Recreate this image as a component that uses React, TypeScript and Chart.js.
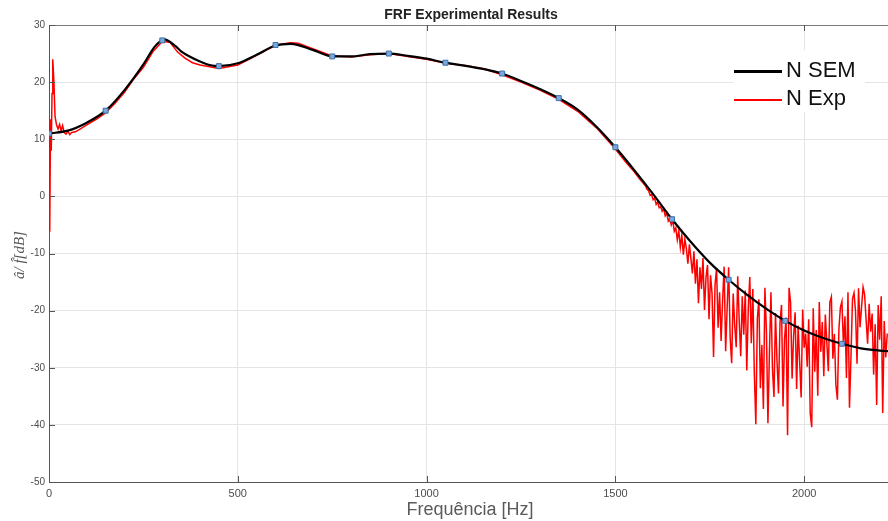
import React, { useEffect, useRef } from "react";
import { Chart, registerables } from "chart.js";

Chart.register(...registerables);

// ---- Data ----
const semFreq = [0, 50, 100, 150, 200, 250, 280, 305, 335, 350, 375, 400, 425, 450, 500, 550, 600, 640, 700, 750, 800, 850, 900, 950, 1000, 1050, 1100, 1150, 1200, 1250, 1300, 1350, 1400, 1450, 1500, 1550, 1600, 1650, 1700, 1750, 1800, 1850, 1900, 1950, 2000, 2050, 2100, 2150, 2200, 2222];
const semVal = [11.0, 11.5, 12.9, 15.0, 18.6, 23.1, 26.2, 27.5, 26.3, 25.4, 24.4, 23.6, 23.0, 22.8, 23.3, 24.8, 26.4, 26.7, 25.6, 24.5, 24.5, 24.9, 25.0, 24.6, 24.1, 23.4, 22.9, 22.3, 21.5, 20.2, 18.8, 17.2, 15.2, 12.2, 8.6, 4.6, 0.4, -4.0, -8.0, -11.6, -14.6, -17.3, -19.7, -21.8, -23.5, -24.8, -25.8, -26.6, -27.0, -27.1];

const markFreq = [0, 150, 300, 450, 600, 750, 900, 1050, 1200, 1350, 1500, 1650, 1800, 1950, 2100];
const markVal = [11.0, 15.0, 27.3, 22.8, 26.5, 24.5, 25.0, 23.4, 21.5, 17.2, 8.6, -4.0, -14.6, -21.8, -25.8];

const expFreq = [0, 2, 4, 6, 8, 10, 13, 16, 20, 24, 28, 32, 36, 40, 45, 50, 55, 60, 70, 80, 100, 125, 150, 175, 200, 225, 250, 275, 300, 320, 340, 360, 380, 400, 450, 500, 550, 600, 640, 660, 700, 750, 800, 850, 900, 950, 1000, 1050, 1100, 1150, 1200, 1250, 1300, 1350, 1400, 1450, 1500, 1530, 1550, 1565];
const expVal = [13.0, -6.2, 13.5, 8.0, 18.0, 24.0, 20.0, 14.0, 12.5, 11.8, 12.6, 11.5, 12.4, 11.2, 10.9, 11.4, 10.8, 11.2, 11.3, 11.7, 12.5, 13.5, 14.6, 16.3, 18.2, 20.6, 22.6, 25.3, 27.1, 27.0, 25.3, 24.2, 23.4, 23.0, 22.4, 23.0, 24.7, 26.5, 26.9, 26.8, 25.8, 24.6, 24.4, 24.8, 25.0, 24.5, 24.0, 23.3, 22.9, 22.4, 21.3, 20.0, 18.6, 17.0, 14.9, 12.0, 8.3, 5.8, 4.3, 3.0];

// noisy high-frequency part, sampled every 4 Hz from 1580 Hz
const expNoiseStart = 1580;
const expNoiseStep = 4;
const expNoiseVal = [
  1.8, 1.2, 1.0, 0.2, 0.3, -0.6, -0.3, -1.4, -1.0, -2.0,
  -1.8, -2.6, -2.2, -3.4, -2.9, -4.3, -3.8, -5.0, -4.2, -6.1,
  -5.5, -7.6, -6.0, -8.9, -6.8, -10.2, -7.5, -9.1, -11.8, -8.4,
  -10.9, -13.5, -9.6, -15.3, -11.0, -18.7, -12.4, -16.2, -10.8, -19.9,
  -14.2, -12.0, -21.5, -13.8, -17.0, -28.1, -15.4, -12.6, -23.0, -16.8,
  -25.3, -18.2, -12.3, -27.1, -19.5, -12.4, -24.8, -29.2, -17.0, -22.5,
  -26.4, -14.0, -21.8, -28.0, -17.5, -24.2, -16.5, -30.5, -19.6, -14.1,
  -25.7, -16.2, -31.0, -39.9, -21.4, -18.0, -33.6, -26.0, -37.2, -16.0,
  -23.5, -39.7, -27.3, -16.8, -30.2, -35.1, -20.4, -28.8, -34.5, -22.1,
  -19.0, -36.8, -25.0, -21.2, -41.8, -16.0, -18.6, -31.9, -24.4, -20.3,
  -33.7, -22.6, -28.9, -35.2, -19.8, -26.5, -24.0, -29.8, -21.5, -38.0,
  -40.4, -19.6, -30.7, -23.4, -34.9, -18.5, -27.2, -22.0, -31.5, -20.7,
  -25.6, -30.6, -18.5, -17.6, -28.4, -24.1, -33.0, -35.6, -23.2, -19.4,
  -18.4, -26.2, -21.0, -31.8, -16.8, -37.0, -27.9, -17.9, -16.9, -20.1,
  -29.3, -16.1, -22.9, -19.3, -15.9, -17.2, -21.6, -25.8, -18.8, -23.7,
  -20.5, -31.2, -22.4, -36.5, -19.0, -25.1, -17.5, -37.9, -21.8, -28.2,
  -24.0,
];

const xTicks = [0, 500, 1000, 1500, 2000];
const yTicks = [-50, -40, -30, -20, -10, 0, 10, 20, 30];

const titleText = "FRF Experimental Results";
const xTitle = "Frequência [Hz]";
const yTitle = "\u00e2/ f\u0302[dB]";
const legendLabels = ["N SEM", "N Exp"];

export default function App() {
  const ref = useRef<HTMLCanvasElement>(null);

  useEffect(() => {
    const canvas = ref.current!;
    const pts = (xs: number[], ys: number[]) => xs.map((x, i) => ({ x, y: ys[i] }));
    const expData = [
      ...pts(expFreq, expVal),
      ...expNoiseVal.map((v, i) => ({ x: expNoiseStart + i * expNoiseStep, y: v })),
    ];

    const deco = {
      id: "deco",
      beforeDraw(c: any) {
        const ctx = c.ctx;
        ctx.save();
        ctx.fillStyle = "#ffffff";
        ctx.fillRect(0, 0, c.width, c.height);
        ctx.restore();
      },
      afterDraw(c: any) {
        const ctx = c.ctx;
        const a = c.chartArea;
        const xs = c.scales.x;
        const ys = c.scales.y;
        ctx.save();
        // top border
        ctx.strokeStyle = "#7a7a7a";
        ctx.lineWidth = 1;
        ctx.beginPath();
        ctx.moveTo(a.left, a.top + 0.5);
        ctx.lineTo(a.right, a.top + 0.5);
        ctx.stroke();
        // inner ticks
        ctx.strokeStyle = "#555";
        ctx.beginPath();
        xTicks.forEach((v) => {
          const px = Math.round(xs.getPixelForValue(v)) + 0.5;
          ctx.moveTo(px, a.bottom);
          ctx.lineTo(px, a.bottom - 6);
          ctx.moveTo(px, a.top);
          ctx.lineTo(px, a.top + 6);
        });
        yTicks.forEach((v) => {
          const py = Math.round(ys.getPixelForValue(v)) + 0.5;
          ctx.moveTo(a.left, py);
          ctx.lineTo(a.left + 6, py);
        });
        ctx.stroke();

        // title
        ctx.fillStyle = "#222";
        ctx.font = 'bold 14px "Liberation Sans", Arial, sans-serif';
        ctx.textAlign = "center";
        ctx.textBaseline = "middle";
        ctx.fillText(titleText, 471, 15);

        // x title
        ctx.fillStyle = "#5a5a5a";
        ctx.font = '18px "Liberation Sans Narrow", "Liberation Sans", sans-serif';
        ctx.fillText(xTitle, 470, 510);

        // y title
        ctx.save();
        ctx.translate(20, 255);
        ctx.rotate(-Math.PI / 2);
        ctx.font = 'italic 15px "Liberation Serif", "DejaVu Serif", serif';
        ctx.fillStyle = "#555";
        ctx.fillText(yTitle, 0, 0);
        ctx.restore();

        // legend
        ctx.fillStyle = "#ffffff";
        ctx.fillRect(733, 50, 132, 62);
        ctx.lineWidth = 3;
        ctx.strokeStyle = "#000";
        ctx.beginPath();
        ctx.moveTo(734, 71.5);
        ctx.lineTo(782, 71.5);
        ctx.stroke();
        ctx.lineWidth = 2;
        ctx.strokeStyle = "#ff0000";
        ctx.beginPath();
        ctx.moveTo(734, 100);
        ctx.lineTo(782, 100);
        ctx.stroke();
        ctx.fillStyle = "#111";
        ctx.font = '22px "Liberation Sans", Arial, sans-serif';
        ctx.textAlign = "left";
        ctx.fillText(legendLabels[0], 786, 71);
        ctx.fillText(legendLabels[1], 786, 99);
        ctx.restore();
      },
    };

    const chart = new Chart(canvas, {
      type: "scatter",
      data: {
        datasets: [
          {
            label: "markers",
            data: pts(markFreq, markVal),
            showLine: false,
            pointStyle: "rect",
            pointRadius: 3.5,
            backgroundColor: "#7aa9dc",
            borderColor: "#3b6ea8",
            borderWidth: 1,
          },
          {
            label: legendLabels[0],
            data: pts(semFreq, semVal),
            showLine: true,
            borderColor: "#000000",
            borderWidth: 2.2,
            pointRadius: 0,
            cubicInterpolationMode: "monotone",
          },
          {
            label: legendLabels[1],
            data: expData,
            showLine: true,
            borderColor: "#ff0000",
            borderWidth: 1.5,
            pointRadius: 0,
            tension: 0,
          },
        ],
      } as any,
      options: {
        responsive: false,
        animation: false,
        devicePixelRatio: 1,
        layout: { autoPadding: false, padding: { top: 25, left: 0, right: 0, bottom: 0 } },
        plugins: {
          legend: { display: false },
          title: { display: false },
          tooltip: { enabled: false },
        },
        scales: {
          x: {
            type: "linear",
            min: 0,
            max: 2222,
            afterFit: (s: any) => {
              s.height = 39;
            },
            afterBuildTicks: (s: any) => {
              s.ticks = xTicks.map((v) => ({ value: v }));
            },
            ticks: {
              padding: 5,
              color: "#4d4d4d",
              font: { family: '"Liberation Sans Narrow", "Liberation Sans", sans-serif', size: 11 },
              maxRotation: 0,
              autoSkip: false,
              callback: (v: any) => String(v),
            },
            grid: { color: "#e4e4e4", drawTicks: false },
            border: { color: "#555", width: 1 },
          },
          y: {
            type: "linear",
            min: -50,
            max: 30,
            afterFit: (s: any) => {
              s.width = 49;
            },
            afterBuildTicks: (s: any) => {
              s.ticks = yTicks.map((v) => ({ value: v }));
            },
            ticks: {
              padding: 4,
              color: "#4d4d4d",
              font: { family: '"Liberation Sans", Arial, sans-serif', size: 10 },
              callback: (v: any) => String(v),
            },
            grid: { color: "#e4e4e4", drawTicks: false },
            border: { color: "#555", width: 1 },
          },
        },
      } as any,
      plugins: [deco],
    });

    return () => chart.destroy();
  }, []);

  return (
    <div style={{ position: "absolute", left: 0, top: 0, width: 888, height: 521 }}>
      <canvas ref={ref} width={888} height={521} style={{ display: "block" }} />
    </div>
  );
}
